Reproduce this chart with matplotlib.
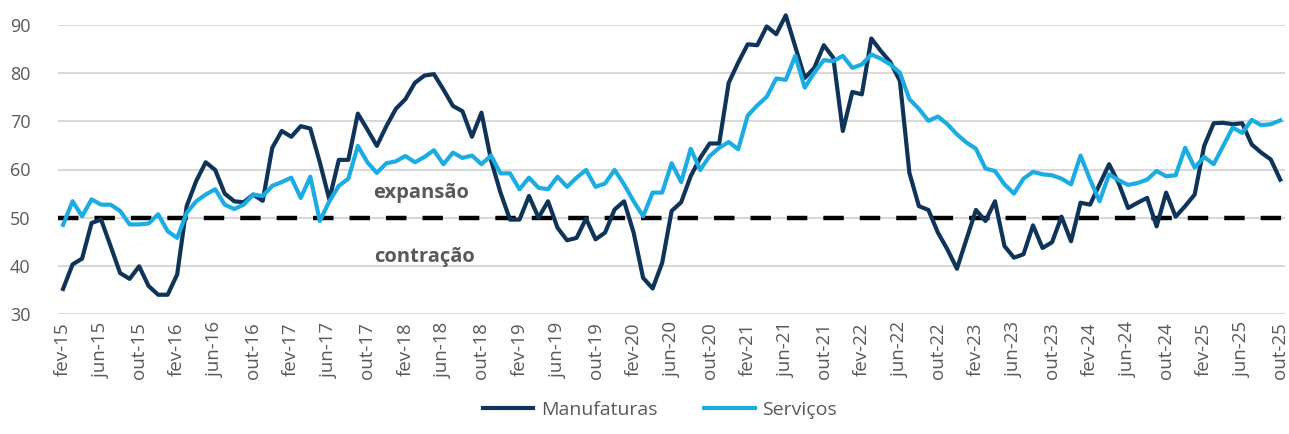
import matplotlib.pyplot as plt

# monthly series, fev-15 .. out-25
manufaturas = [
    35.2, 40.3, 41.5, 48.9, 49.6, 44.1, 38.5, 37.3, 39.9, 35.8, 34.0, 34.0, 38.2, 52.4, 57.6, 61.5, 59.9, 55.0, 53.4, 53.2, 54.8,
    53.5, 64.5, 68.0, 66.8, 69.0, 68.5, 61.5, 53.8, 62.0, 62.0, 71.6, 68.3, 64.9, 69.0, 72.6, 74.6, 78.0, 79.5, 79.8, 76.6, 73.2,
    72.1, 66.8, 71.8, 62.0, 55.2, 49.6, 49.6, 54.5, 50.0, 53.4, 47.9, 45.3, 45.8, 49.8, 45.5, 46.9, 51.7, 53.4, 46.9, 37.5, 35.3,
    40.6, 51.4, 53.2, 58.6, 62.4, 65.4, 65.4, 78.0, 82.2, 86.0, 85.8, 89.7, 88.1, 92.0, 85.5, 79.0, 81.1, 85.8, 83.2, 68.0, 76.1,
    75.6, 87.2, 84.6, 82.3, 78.4, 59.3, 52.4, 51.6, 46.9, 43.4, 39.4, 45.5, 51.6, 49.3, 53.4, 44.1, 41.7, 42.4, 48.4, 43.7,
    44.9, 50.2, 45.1, 53.1, 52.7, 56.9, 61.1, 57.2, 52.0, 53.1, 54.1, 48.2, 55.2, 50.2, 52.4, 54.8, 64.9, 69.6, 69.7, 69.4, 69.6,
    65.2, 63.5, 62.1, 57.9,
]
servicos = [
    48.5, 53.4, 50.3, 53.8, 52.7, 52.7, 51.4, 48.6, 48.6, 48.8, 50.7, 47.2, 45.8, 51.0, 53.4, 54.8, 55.9, 52.7, 51.8, 52.7, 54.8,
    54.5, 56.6, 57.4, 58.3, 54.1, 58.5, 49.3, 53.4, 56.6, 58.1, 64.9, 61.5, 59.3, 61.3, 61.7, 62.8, 61.5, 62.6, 64.0, 61.1, 63.5,
    62.4, 62.9, 61.1, 62.9, 59.2, 59.2, 55.9, 58.3, 56.2, 55.9, 58.5, 56.4, 58.3, 59.9, 56.4, 57.1, 59.9, 56.9, 53.4, 50.3, 55.2,
    55.2, 61.3, 57.4, 64.3, 59.9, 62.8, 64.5, 65.7, 64.2, 71.2, 73.3, 75.1, 78.9, 78.6, 83.6, 77.0, 80.1, 82.7, 82.5, 83.6, 81.1,
    81.8, 83.9, 83.0, 81.8, 80.1, 74.6, 72.6, 70.1, 71.0, 69.4, 67.3, 65.6, 64.3, 60.2, 59.7, 56.9, 55.0, 58.1, 59.5, 59.0,
    58.8, 58.1, 56.9, 62.9, 57.9, 53.4, 59.0, 57.8, 56.8, 57.2, 57.9, 59.7, 58.6, 58.8, 64.5, 60.4, 62.6, 61.1, 64.9, 68.7, 67.6,
    70.3, 69.2, 69.4, 70.2,
]

meses = ['jan', 'fev', 'mar', 'abr', 'mai', 'jun', 'jul', 'ago', 'set', 'out', 'nov', 'dez']
start_year, start_month = 2015, 1  # fev-15 (0-based month)
labels = []
for k in range(len(manufaturas)):
    m = start_month + k
    labels.append(f'{meses[m % 12]}-{(start_year + m // 12) % 100:02d}')

dark = '#0E3459'
light = '#1AACE2'
gray = '#595959'

plt.rcParams['font.family'] = ['Open Sans', 'DejaVu Sans']

fig = plt.figure(figsize=(12.89, 4.34), dpi=100)
ax = fig.add_axes([58.3 / 1289, 1 - 314 / 434, (1285 - 58.3) / 1289, 289 / 434])

x = list(range(len(manufaturas)))
ax.plot(x, manufaturas, color=dark, lw=3.0, label='Manufaturas', solid_joinstyle='round', zorder=3, clip_on=False)
ax.plot(x, servicos, color=light, lw=3.0, label='Serviços', solid_joinstyle='round', zorder=3, clip_on=False)
ax.axhline(50, color='black', lw=3.2, linestyle=(0, (4.6, 3.6)), zorder=2)

ax.set_xlim(-0.5, len(x) - 0.5)
ax.set_ylim(30, 90)
ax.set_yticks(range(30, 91, 10))
ax.grid(axis='y', color='#D9D9D9', lw=1.5)
ax.set_axisbelow(True)
for s in ax.spines.values():
    s.set_visible(False)

ax.set_xticks(x[::4])
ax.set_xticklabels(labels[::4], rotation=90)
ax.tick_params(axis='x', length=0, pad=6, labelsize=13.5, labelcolor=gray)
ax.tick_params(axis='y', length=0, pad=20, labelsize=13, labelcolor=gray)

ax.text(37.7, 55.1, 'expansão', ha='center', va='center', fontsize=14.5, fontweight='bold', color=gray)
ax.text(38.0, 41.8, 'contração', ha='center', va='center', fontsize=14.5, fontweight='bold', color=gray)

fig.legend(loc='lower center', bbox_to_anchor=(0.512, -0.005), ncol=2, frameon=False,
           fontsize=14, labelcolor=gray, handlelength=2.6, handletextpad=0.4, columnspacing=2.4)

fig.savefig('out.png', dpi=100)
